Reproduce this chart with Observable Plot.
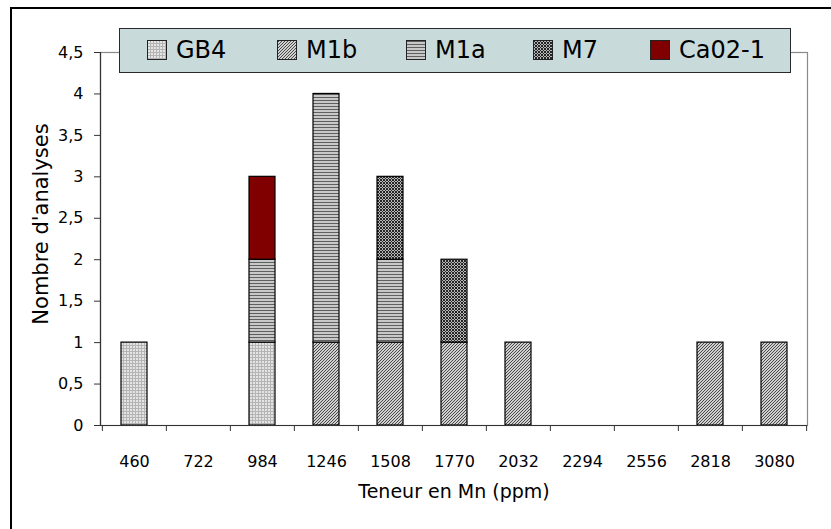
<!DOCTYPE html>
<html>
<head>
<meta charset="utf-8">
<script src="https://cdn.jsdelivr.net/npm/d3@7"></script>
<script src="https://cdn.jsdelivr.net/npm/@observablehq/plot@0.6"></script>
<style>
  html, body { margin: 0; padding: 0; background: #fff; overflow: hidden; }
  #wrap { position: relative; width: 831px; height: 529px; font-family: "Comic Sans MS", "DejaVu Sans", sans-serif; }
  #frame { position: absolute; left: 10px; top: 7px; width: 900px; height: 600px; border-left: 2px solid #000; border-top: 2px solid #000; pointer-events: none; }
  #chart { position: absolute; left: 0; top: 0; }
  #legend { position: absolute; left: 119px; top: 28px; width: 672px; height: 45px; box-sizing: border-box;
            background: #c9dada; border: 1.5px solid #2a2a2a; }
  .item { position: absolute; top: 0; height: 42px; display: flex; align-items: center; font-size: 24px; color: #000; }
  .item svg { margin-right: 9px; }
</style>
</head>
<body>
<div id="wrap">
  <div id="chart"></div>
  <div id="frame"></div>
  <div id="legend"></div>
</div>
<script>
// ---- data ----
const categories = [460, 722, 984, 1246, 1508, 1770, 2032, 2294, 2556, 2818, 3080];
const series = ["GB4", "M1b", "M1a", "M7", "Ca02-1"];
const countsGB4  = [1, 0, 1, 0, 0, 0, 0, 0, 0, 0, 0];
const countsM1b  = [0, 0, 0, 1, 1, 1, 1, 0, 0, 1, 1];
const countsM1a  = [0, 0, 1, 3, 1, 0, 0, 0, 0, 0, 0];
const countsM7   = [0, 0, 0, 0, 1, 1, 0, 0, 0, 0, 0];
const countsCaO2 = [0, 0, 1, 0, 0, 0, 0, 0, 0, 0, 0];
const yTicks = [0, 0.5, 1, 1.5, 2, 2.5, 3, 3.5, 4, 4.5];
const xTitle = "Teneur en Mn (ppm)";
const yTitle = "Nombre d'analyses";

// ---- styling ----
const seriesCounts = [countsGB4, countsM1b, countsM1a, countsM7, countsCaO2];
const patternIds = ["pGB4", "pM1b", "pM1a", "pM7", "pCaO2"];
const fills = patternIds.map(id => `url(#${id})`);
const legendLefts = [27, 157, 286, 413, 530];

const data = [];
series.forEach((s, si) => {
  categories.forEach((c, ci) => {
    const v = seriesCounts[si][ci];
    if (v > 0) data.push({cat: c, series: s, count: v});
  });
});

const W = 831, H = 529, mL = 100, mR = 24, mT = 52, mB = 104;
const step = (W - mL - mR) / categories.length;
const comma = d => String(d).replace(".", ",");
const font = '"Comic Sans MS", "DejaVu Sans", sans-serif';

const chart = Plot.plot({
  width: W, height: H,
  marginLeft: mL, marginRight: mR, marginTop: mT, marginBottom: mB,
  style: {fontFamily: font, fontSize: "16px", color: "#000", background: "transparent"},
  x: {type: "band", domain: categories, paddingInner: 0.6, paddingOuter: 0.3, label: null},
  y: {domain: [0, 4.5], label: null},
  color: {domain: series, range: fills},
  marks: [
    Plot.frame({stroke: "#8a8a8a", strokeWidth: 1.2}),
    Plot.barY(data, {x: "cat", y: "count", fill: "series", stroke: "#000", strokeWidth: 1.2}),
    Plot.ruleY([0], {stroke: "#333", strokeWidth: 1.2}),
    Plot.frame({anchor: "left", stroke: "#333", strokeWidth: 1.2}),
    Plot.axisY({ticks: yTicks, tickSize: 6, tickPadding: 11, tickFormat: comma, fontSize: 16, stroke: "#333", label: null}),
    Plot.axisX({tickSize: 0, tickPadding: 30, fontSize: 16, label: null, tickFormat: d => String(d)}),
    Plot.axisX({tickSize: 6, tickFormat: () => "", dx: -step / 2, stroke: "#333", label: null}),
    Plot.axisX({ticks: [categories[categories.length - 1]], tickSize: 6, tickFormat: () => "", dx: step / 2, stroke: "#333", label: null}),
    Plot.text([yTitle], {frameAnchor: "left", textAnchor: "middle", lineAnchor: "middle", rotate: -90, dx: -59, dy: -15, fontSize: 21, fill: "#000"}),
    Plot.text([xTitle], {frameAnchor: "bottom", dy: 72, fontSize: 19, fill: "#000"})
  ]
});

const defs = `
<pattern id="pGB4" width="3" height="3" patternUnits="userSpaceOnUse">
  <rect width="3" height="3" fill="#e4e4e4"/>
  <path d="M0 0.5H3M0.5 0V3" stroke="#b4b4b4" stroke-width="1"/>
</pattern>
<pattern id="pM1b" width="3" height="3" patternUnits="userSpaceOnUse">
  <rect width="3" height="3" fill="#d0d0d0"/>
  <path d="M0 3L3 0M-1 1L1 -1M2 4L4 2" stroke="#4a4a4a" stroke-width="1"/>
</pattern>
<pattern id="pM1a" width="3" height="3" patternUnits="userSpaceOnUse">
  <rect width="3" height="3" fill="#dadada"/>
  <path d="M0 1.5H3" stroke="#606060" stroke-width="1.3"/>
</pattern>
<pattern id="pM7" width="3" height="3" patternUnits="userSpaceOnUse">
  <rect width="3" height="3" fill="#b8b8b8"/>
  <path d="M0 3L3 0M-1 1L1 -1M2 4L4 2M0 0L3 3M-1 2L1 4M2 -1L4 1" stroke="#262626" stroke-width="1"/>
</pattern>
<pattern id="pCaO2" width="4" height="4" patternUnits="userSpaceOnUse">
  <rect width="4" height="4" fill="#800000"/>
</pattern>`;
d3.select(chart).insert("defs", ":first-child").html(defs);
document.getElementById("chart").appendChild(chart);

// ---- legend ----
const legend = d3.select("#legend");
series.forEach((s, i) => {
  const item = legend.append("div").attr("class", "item").style("left", legendLefts[i] + "px");
  const sv = item.append("svg").attr("width", 20).attr("height", 20);
  sv.append("rect").attr("x", 0.5).attr("y", 0.5).attr("width", 19).attr("height", 19)
    .attr("fill", fills[i]).attr("stroke", "#222").attr("stroke-width", 1);
  item.append("span").text(s);
});
</script>
</body>
</html>
